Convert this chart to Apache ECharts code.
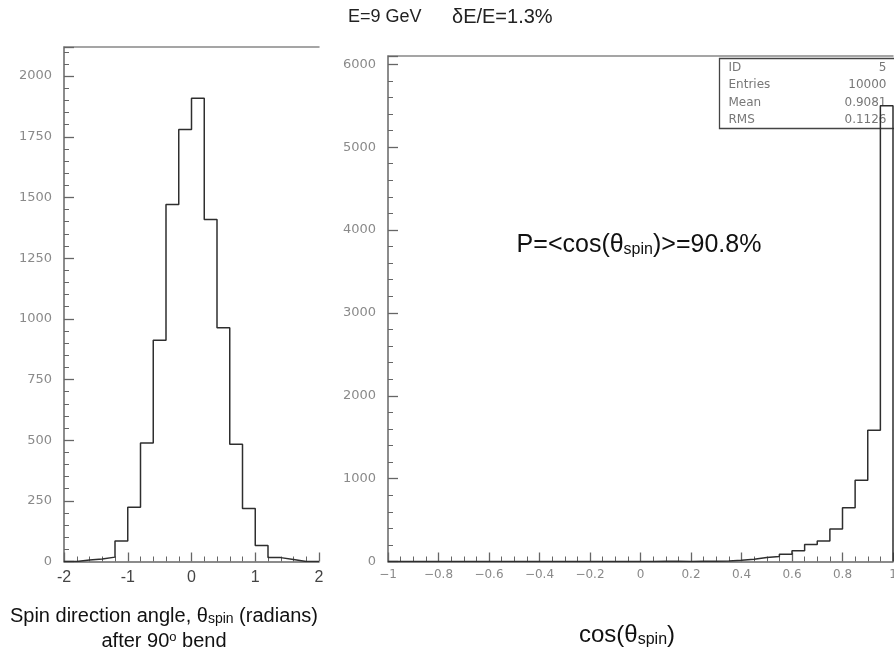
<!DOCTYPE html>
<html>
<head>
<meta charset="utf-8">
<script src="https://cdn.jsdelivr.net/npm/echarts@6/dist/echarts.min.js"></script>
<style>
  html, body { margin: 0; padding: 0; background: #fff; overflow: hidden; }
  #chart { width: 894px; height: 667px; }
</style>
</head>
<body>
<div id="chart"></div>
<script>
// Left histogram: spin direction angle (radians), 20 bins of 0.2 from -2 to 2
const angleStart = -2;
const angleBinWidth = 0.2;
const angleCounts = [0, 6, 10, 18, 84, 224, 488, 912, 1471, 1780,
                     1909, 1409, 963, 483, 218, 66, 16, 8, 0, 0];

// Right histogram: cos(theta_spin), 40 bins of 0.05 from -1 to 1
const cosStart = -1;
const cosBinWidth = 0.05;
const cosCounts = [0, 0, 0, 0, 0, 0, 0, 0, 0, 0,
                   0, 0, 0, 0, 0, 0, 0, 0, 0, 0,
                   0, 3, 4, 1, 3, 4, 5, 14, 28, 48,
                   60, 88, 129, 206, 246, 391, 649, 980, 1585, 5500];

// Axis ranges and tick spacing
const angleAxis = { min: -2, max: 2, major: 1, minorSplit: 5 };
const angleCountAxis = { min: 0, max: 2120, major: 250, minor: 50 };
const cosAxis = { min: -1, max: 1, major: 0.2, minorSplit: 4 };
const cosCountAxis = { min: 0, max: 6100, major: 1000, minor: 200 };

// Statistics box rows
const statLabels = ['ID', 'Entries', 'Mean', 'RMS'];
const statValues = ['5', '10000', '0.9081', '0.1126'];

// Build a closed step outline from bin counts (PAW-style histogram contour)
function edge(start, width, i) {
  return Math.round((start + i * width) * 1e6) / 1e6;
}
function outline(start, width, counts) {
  const pts = [[start, 0]];
  counts.forEach((c, i) => pts.push([edge(start, width, i), c]));
  pts.push([edge(start, width, counts.length), 0]);
  return pts;
}

const AXIS_COLOR = '#666';
const HIST_COLOR = '#2e2e2e';
const TICK_FONT = 'DejaVu Sans';
const TEXT_FONT = 'Liberation Sans';

function bottomAxis(grid, cfg, label) {
  return {
    gridIndex: grid, type: 'value', position: 'bottom',
    min: cfg.min, max: cfg.max, interval: cfg.major,
    axisLine: { show: true, onZero: false, lineStyle: { color: AXIS_COLOR, width: 1.5 } },
    axisTick: { show: true, inside: true, length: 9, lineStyle: { color: AXIS_COLOR, width: 1.3 } },
    minorTick: { show: true, splitNumber: cfg.minorSplit, length: 5, lineStyle: { color: AXIS_COLOR, width: 1 } },
    splitLine: { show: false },
    axisLabel: label
  };
}
function topLine(grid, cfg) {
  return {
    gridIndex: grid, type: 'value', position: 'top',
    min: cfg.min, max: cfg.max,
    axisLine: { show: true, onZero: false, lineStyle: { color: '#888', width: 1.5 } },
    axisTick: { show: false }, axisLabel: { show: false }, splitLine: { show: false }
  };
}
function countAxes(grid, cfg) {
  return [{
    gridIndex: grid, type: 'value', position: 'left',
    min: cfg.min, max: cfg.max, interval: cfg.major,
    axisLine: { show: true, onZero: false, lineStyle: { color: AXIS_COLOR, width: 1.5 } },
    axisTick: { show: true, inside: true, length: 10, lineStyle: { color: AXIS_COLOR, width: 1.3 } },
    splitLine: { show: false },
    axisLabel: {
      color: '#8a8a8a', fontFamily: TICK_FONT, fontSize: 13, margin: 12,
      formatter: v => (v % cfg.major === 0 ? String(v) : '')
    }
  }, {
    gridIndex: grid, type: 'value', position: 'left',
    min: cfg.min, max: cfg.max, interval: cfg.minor,
    axisLine: { show: false, onZero: false },
    axisTick: { show: true, inside: true, length: 5, lineStyle: { color: AXIS_COLOR, width: 1 } },
    splitLine: { show: false },
    axisLabel: { show: false }
  }];
}

const chart = echarts.init(document.getElementById('chart'), null, { renderer: 'canvas' });

const option = {
  backgroundColor: '#fff',
  animation: false,
  grid: [
    { left: 64, top: 47, width: 255, height: 514.5, outerBoundsMode: 'none', containLabel: false },
    { left: 388, top: 56, width: 505, height: 505.5, outerBoundsMode: 'none', containLabel: false }
  ],
  xAxis: [
    bottomAxis(0, angleAxis, { color: '#444', fontFamily: TEXT_FONT, fontSize: 16, margin: 8 }),
    topLine(0, angleAxis),
    bottomAxis(1, cosAxis, {
      color: '#8a8a8a', fontFamily: TICK_FONT, fontSize: 12, margin: 7,
      formatter: v => (v < 0 ? '\u2212' + String(Math.abs(v)) : String(v))
    }),
    topLine(1, cosAxis)
  ],
  yAxis: [].concat(countAxes(0, angleCountAxis), countAxes(1, cosCountAxis)),
  series: [
    {
      type: 'line', xAxisIndex: 0, yAxisIndex: 0, step: 'end', symbol: 'none',
      lineStyle: { color: HIST_COLOR, width: 1.5 },
      data: outline(angleStart, angleBinWidth, angleCounts)
    },
    {
      type: 'line', xAxisIndex: 2, yAxisIndex: 2, step: 'end', symbol: 'none',
      lineStyle: { color: HIST_COLOR, width: 1.5 },
      data: outline(cosStart, cosBinWidth, cosCounts)
    }
  ],
  graphic: [
    // heading
    { type: 'text', left: 348, top: 8, style: { text: 'E=9 GeV', font: '18px "Liberation Sans"', fill: '#222' } },
    { type: 'text', left: 452, top: 7, style: { text: '\u03B4E/E=1.3%', font: '20px "Liberation Sans"', fill: '#222' } },
    // polarisation annotation
    {
      type: 'text', x: 639, y: 245,
      style: {
        text: 'P=<cos(\u03B8{s|spin})>=90.8%', fill: '#111',
        font: '25px "Liberation Sans"', align: 'center', verticalAlign: 'middle',
        rich: { s: { fontSize: 16, fontFamily: TEXT_FONT, verticalAlign: 'bottom', padding: [9, 0, 0, 0], fill: '#111' } }
      }
    },
    // left axis title
    {
      type: 'text', x: 164, y: 616,
      style: {
        text: 'Spin direction angle, \u03B8{s|spin} (radians)', fill: '#111',
        font: '20px "Liberation Sans"', align: 'center', verticalAlign: 'middle',
        rich: { s: { fontSize: 14, fontFamily: TEXT_FONT, verticalAlign: 'bottom', padding: [7, 0, 0, 0], fill: '#111' } }
      }
    },
    {
      type: 'text', x: 164, y: 641,
      style: {
        text: 'after 90{o|o} bend', fill: '#111',
        font: '20px "Liberation Sans"', align: 'center', verticalAlign: 'middle',
        rich: { o: { fontSize: 13, fontFamily: TEXT_FONT, verticalAlign: 'top', padding: [0, 0, 8, 0], fill: '#111' } }
      }
    },
    // right axis title
    {
      type: 'text', x: 627, y: 635,
      style: {
        text: 'cos(\u03B8{s|spin})', fill: '#111',
        font: '24px "Liberation Sans"', align: 'center', verticalAlign: 'middle',
        rich: { s: { fontSize: 16, fontFamily: TEXT_FONT, verticalAlign: 'bottom', padding: [9, 0, 0, 0], fill: '#111' } }
      }
    },
    // statistics box
    {
      type: 'group', left: 717, top: 56,
      children: [
        { type: 'rect', shape: { x: 0, y: 0, width: 180, height: 70 }, style: { fill: 'none', stroke: '#444', lineWidth: 1.3 } }
      ].concat(statLabels.map((t, i) => ({
        type: 'text', x: 9, y: 9 + i * 17.5,
        style: { text: t, font: '12px "DejaVu Sans"', fill: '#777', verticalAlign: 'middle' }
      }))).concat(statValues.map((t, i) => ({
        type: 'text', x: 167, y: 9 + i * 17.5,
        style: { text: t, font: '12px "DejaVu Sans"', fill: '#777', align: 'right', verticalAlign: 'middle' }
      })))
    }
  ]
};

chart.setOption(option);
</script>
</body>
</html>
